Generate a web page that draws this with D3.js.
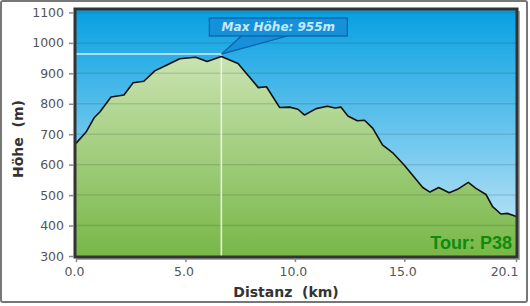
<!DOCTYPE html>
<html>
<head>
<meta charset="utf-8">
<script src="https://cdn.jsdelivr.net/npm/d3@7"></script>
<style>
  body { margin: 0; background: #fff; }
  svg { display: block; }
</style>
</head>
<body>
<svg id="chart" width="530" height="306"></svg>
<script>
// Höhenprofil Tour P38
var distKm = [0, 0.46, 0.84, 1.09, 1.6, 2.19, 2.61, 3.1, 3.6, 4.06, 4.74, 5.47, 5.99, 6.64,
    7.4, 8.33, 8.7, 9.3, 9.76, 10.14, 10.44, 10.97, 11.48, 11.84, 12.1, 12.42, 12.85, 13.18,
    13.56, 14.0, 14.47, 15.0, 15.84, 16.17, 16.57, 17.05, 17.43, 17.92, 18.27, 18.73, 19.03,
    19.41, 19.71, 20.02, 20.1];
var hoehe = [670, 707, 755, 773, 822, 829, 869, 874, 908, 924, 948, 953, 939, 955,
    932, 853, 856, 788, 789, 782, 763, 784, 792, 786, 789, 760, 744, 746,
    719, 665, 639, 598, 525, 510, 525, 508, 519, 542, 522, 502, 462,
    438, 440, 432, 430];
var yTicks = [300, 400, 500, 600, 700, 800, 900, 1000, 1100];
var xTicks = [0, 5, 10, 15, 20.1];
var tourName = "Tour: P38";

var svg = d3.select("#chart");
var pLeft = 76, pRight = 516, pTop = 10, pBottom = 256;

var x = d3.scaleLinear().domain([0, 20.1]).range([pLeft, pRight]);
var y = d3.scaleLinear().domain([300, 1108]).range([pBottom, pTop]);

var pts = distKm.map((d, i) => ({ d: d, h: hoehe[i] }));
var maxPt = pts.reduce((a, b) => b.h > a.h ? b : a);

// outer frame
svg.append("rect")
    .attr("x", 1).attr("y", 1).attr("width", 526).attr("height", 301)
    .attr("rx", 2)
    .attr("fill", "#fff").attr("stroke", "#777").attr("stroke-width", 2);

var defs = svg.append("defs");
var sky = defs.append("linearGradient").attr("id", "sky")
    .attr("x1", 0).attr("y1", 0).attr("x2", 0).attr("y2", 1);
sky.append("stop").attr("offset", "0%").attr("stop-color", "#07a0e2");
sky.append("stop").attr("offset", "100%").attr("stop-color", "#cdeaf8");
var grass = defs.append("linearGradient").attr("id", "grass")
    .attr("gradientUnits", "userSpaceOnUse")
    .attr("x1", 0).attr("y1", pTop).attr("x2", 0).attr("y2", pBottom);
grass.append("stop").attr("offset", "0%").attr("stop-color", "#dcedc9");
grass.append("stop").attr("offset", "100%").attr("stop-color", "#78b748");

// shadow + background
svg.append("rect")
    .attr("x", pLeft + 1).attr("y", pTop + 1)
    .attr("width", pRight - pLeft + 3).attr("height", pBottom - pTop + 3)
    .attr("fill", "#aaa");
svg.append("rect")
    .attr("x", pLeft).attr("y", pTop)
    .attr("width", pRight - pLeft).attr("height", pBottom - pTop)
    .attr("fill", "url(#sky)");

var area = d3.area()
    .x(p => x(p.d))
    .y0(pBottom)
    .y1(p => y(p.h));
svg.append("path")
    .datum(pts)
    .attr("d", area)
    .attr("fill", "url(#grass)");

// grid
svg.selectAll("line.grid")
    .data(yTicks.slice(1))
    .enter()
    .append("line")
    .attr("class", "grid")
    .attr("x1", pLeft).attr("x2", pRight)
    .attr("y1", d => y(d)).attr("y2", d => y(d))
    .attr("stroke", "rgba(40,60,60,0.16)")
    .attr("stroke-width", 1.5);

// max crosshair
svg.append("line")
    .attr("x1", pLeft).attr("x2", x(maxPt.d))
    .attr("y1", y(maxPt.h) - 2.5).attr("y2", y(maxPt.h) - 2.5)
    .attr("stroke", "#d8f0fc").attr("stroke-width", 1.5);
svg.append("line")
    .attr("x1", x(maxPt.d)).attr("x2", x(maxPt.d))
    .attr("y1", y(maxPt.h) - 2.5).attr("y2", pBottom)
    .attr("stroke", "#eef6e6").attr("stroke-width", 1.5);

var line = d3.line()
    .x(p => x(p.d))
    .y(p => y(p.h));
svg.append("path")
    .datum(pts)
    .attr("d", line)
    .attr("fill", "none")
    .attr("stroke", "#111")
    .attr("stroke-width", 1.6)
    .attr("stroke-linejoin", "round");

// plot frame
svg.append("rect")
    .attr("x", pLeft - 1).attr("y", pTop - 1)
    .attr("width", pRight - pLeft + 2).attr("height", pBottom - pTop + 2)
    .attr("fill", "none").attr("stroke", "#333").attr("stroke-width", 3);

// axes
var yAxis = svg.append("g")
    .attr("transform", "translate(" + (pLeft - 2) + ",0)")
    .call(d3.axisLeft(y).tickValues(yTicks).tickSize(5).tickPadding(5)
        .tickFormat(d3.format("d")));
var xAxis = svg.append("g")
    .attr("transform", "translate(0," + (pBottom + 2) + ")")
    .call(d3.axisBottom(x).tickValues(xTicks).tickSize(4).tickPadding(5)
        .tickFormat(d3.format(".1f")));
[yAxis, xAxis].forEach(g => {
    g.select(".domain").remove();
    g.selectAll(".tick line").attr("stroke", "#888").attr("stroke-width", 1.5);
    g.selectAll(".tick text")
        .attr("fill", "#555")
        .style("font-family", "DejaVu Sans, Verdana, sans-serif")
        .style("font-size", "12.5px");
});
xAxis.selectAll(".tick text").attr("dx", -2);
xAxis.selectAll(".tick text").filter(d => d === 20.1)
    .attr("text-anchor", "end").attr("dx", 2);

svg.append("text")
    .attr("x", 286).attr("y", 297)
    .attr("text-anchor", "middle")
    .attr("fill", "#333")
    .style("font-family", "DejaVu Sans, sans-serif")
    .style("font-weight", "bold").style("font-size", "14px")
    .attr("xml:space", "preserve")
    .text("Distanz  (km)");
svg.append("text")
    .attr("transform", "translate(23,139) rotate(-90)")
    .attr("text-anchor", "middle")
    .attr("fill", "#333")
    .style("font-family", "DejaVu Sans, sans-serif")
    .style("font-weight", "bold").style("font-size", "14px")
    .attr("xml:space", "preserve")
    .text("Höhe  (m)");

svg.append("text")
    .attr("x", pRight - 4).attr("y", 249)
    .attr("text-anchor", "end")
    .attr("fill", "#0d8c0d")
    .style("font-family", "Liberation Sans, Arial, sans-serif")
    .style("font-weight", "bold").style("font-size", "18px")
    .text(tourName);

// callout for the highest point
var px = x(maxPt.d), py = y(maxPt.h) - 2.5;
var bx = px - 12, by = 18, bw = 138, bh = 18;
svg.append("path")
    .attr("d", "M" + (px + 20) + "," + (by + bh) + "L" + px + "," + py +
        "L" + (px + 66) + "," + (by + bh))
    .attr("fill", "#1690d8").attr("stroke", "#0d5fa8").attr("stroke-width", 1.2);
svg.append("rect")
    .attr("x", bx).attr("y", by).attr("width", bw).attr("height", bh)
    .attr("fill", "#1690d8").attr("stroke", "#0d5fa8").attr("stroke-width", 1.2);
svg.append("text")
    .attr("x", bx + bw / 2).attr("y", by + 13)
    .attr("text-anchor", "middle")
    .attr("fill", "#c6e9ff")
    .style("font-family", "DejaVu Sans, Verdana, sans-serif")
    .style("font-weight", "bold").style("font-style", "italic")
    .style("font-size", "12px")
    .text("Max Höhe: " + maxPt.h + "m");
</script>
</body>
</html>
